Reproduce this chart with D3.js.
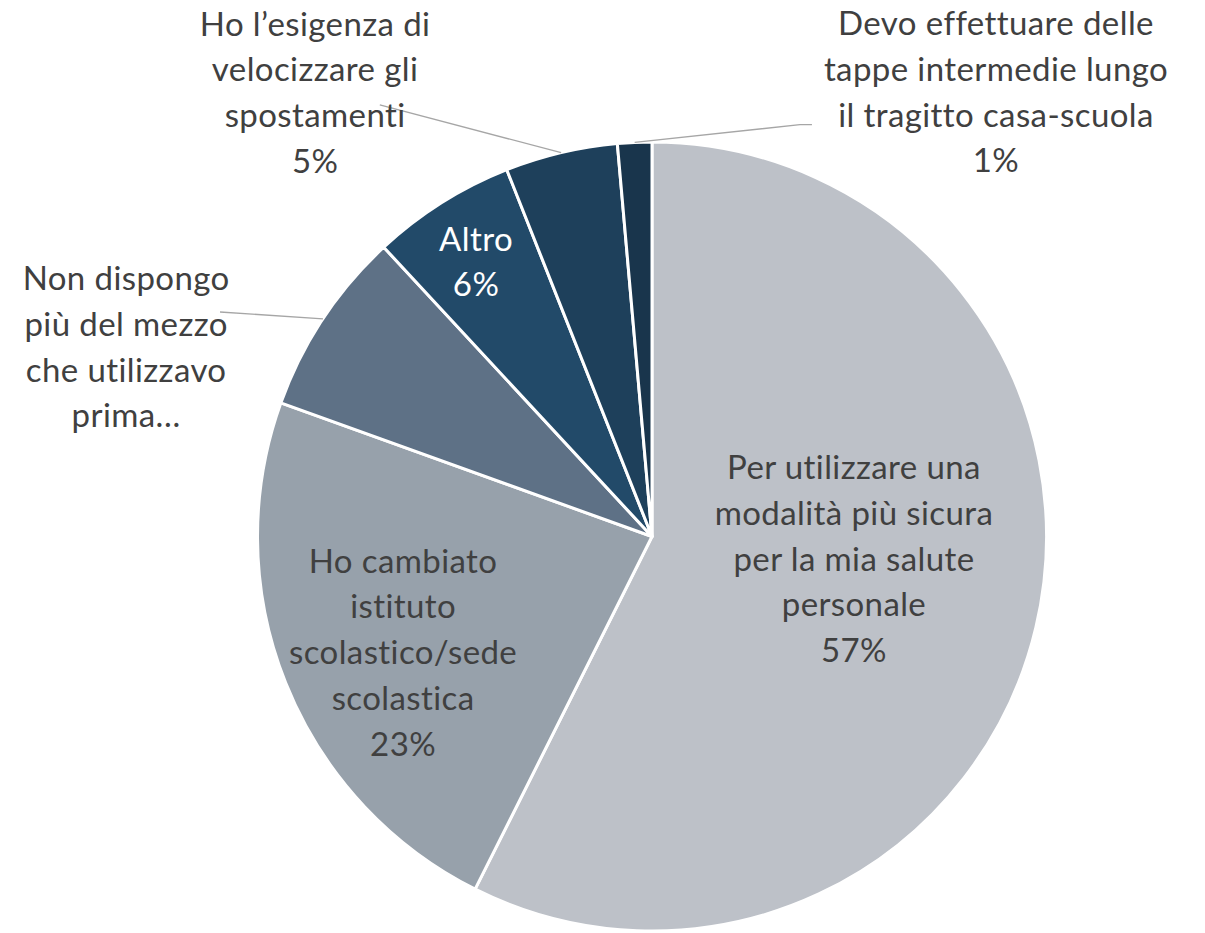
<!DOCTYPE html>
<html>
<head>
<meta charset="utf-8">
<script src="https://cdn.jsdelivr.net/npm/d3@7"></script>
<style>
  html, body { margin: 0; padding: 0; background: #ffffff; }
  svg { display: block; }
  text { font-variant-ligatures: none; font-feature-settings: "liga" 0, "clig" 0; }
</style>
</head>
<body>
<svg id="chart" width="1205" height="933"></svg>
<script>
// ---- data ----
const categories = [
  ["Per utilizzare una", "modalità più sicura", "per la mia salute", "personale"],
  ["Ho cambiato", "istituto", "scolastico/sede", "scolastica"],
  ["Non dispongo", "più del mezzo", "che utilizzavo", "prima…"],
  ["Altro"],
  ["Ho l’esigenza di", "velocizzare gli", "spostamenti"],
  ["Devo effettuare delle", "tappe intermedie lungo", "il tragitto casa-scuola"]
];
const values = [57.4, 23.1, 7.6, 5.9, 4.6, 1.4];
const percentLabels = ["57%", "23%", null, "6%", "5%", "1%"];

// ---- styles / layout ----
const colors = ["#BDC1C8", "#97A1AB", "#5E7186", "#224A69", "#1E405B", "#19354C"];
const textColors = ["#404040", "#404040", "#404040", "#ffffff", "#404040", "#404040"];
const W = 1205, H = 933;
const cx = 652, cy = 536.5, R = 394.5;
const fontSize = 33, lineH = 45.75, letterSpacing = 0.4;
// label block centres relative to pie centre, in units of radius
const labelOffsets = [
  [0.512, 0.057], [-0.631, 0.294], [-1.333, -0.480],
  [-0.446, -0.696], [-0.854, -1.125], [0.872, -1.126]
];
const hasLeader = [false, false, true, false, true, true];
const leaderEnds = [null, null, [-1.095, -0.569], null, [-0.690, -1.094], [0.375, -1.044]];

const svg = d3.select("#chart");
const g = svg.append("g").attr("transform", `translate(${cx},${cy})`);

const pie = d3.pie().sort(null).value(d => d);
const arcs = pie(values);
const arc = d3.arc().innerRadius(0).outerRadius(R);

g.selectAll("path.slice")
  .data(arcs)
  .enter().append("path")
  .attr("class", "slice")
  .attr("d", arc)
  .attr("fill", (d, i) => colors[i])
  .attr("stroke", "#ffffff")
  .attr("stroke-width", 3)
  .attr("stroke-linejoin", "round");

// leader lines
arcs.forEach((d, i) => {
  if (!hasLeader[i]) return;
  const mid = (d.startAngle + d.endAngle) / 2;
  const p0 = [R * Math.sin(mid), -R * Math.cos(mid)];
  const e = leaderEnds[i];
  const pts = [p0, [e[0] * R, e[1] * R]];
  if (i === 5) pts.push([e[0] * R + 12, e[1] * R]);
  g.append("path")
    .attr("d", d3.line()(pts))
    .attr("fill", "none")
    .attr("stroke", "#A6A6A6")
    .attr("stroke-width", 1.4);
});

// labels
arcs.forEach((d, i) => {
  const lines = categories[i].slice();
  if (percentLabels[i]) lines.push(percentLabels[i]);
  const [ox, oy] = labelOffsets[i];
  const x = ox * R, y = oy * R;
  const n = lines.length;
  const firstBaseline = y - (n - 1) * lineH / 2 + fontSize * 0.35;
  const t = g.append("text")
    .attr("text-anchor", "middle")
    .attr("font-family", "Lato, 'Open Sans', sans-serif")
    .attr("font-size", fontSize)
    .attr("letter-spacing", letterSpacing)
    .attr("fill", textColors[i]);
  lines.forEach((ln, k) => {
    t.append("tspan").attr("x", x).attr("y", firstBaseline + k * lineH).text(ln);
  });
});
</script>
</body>
</html>
